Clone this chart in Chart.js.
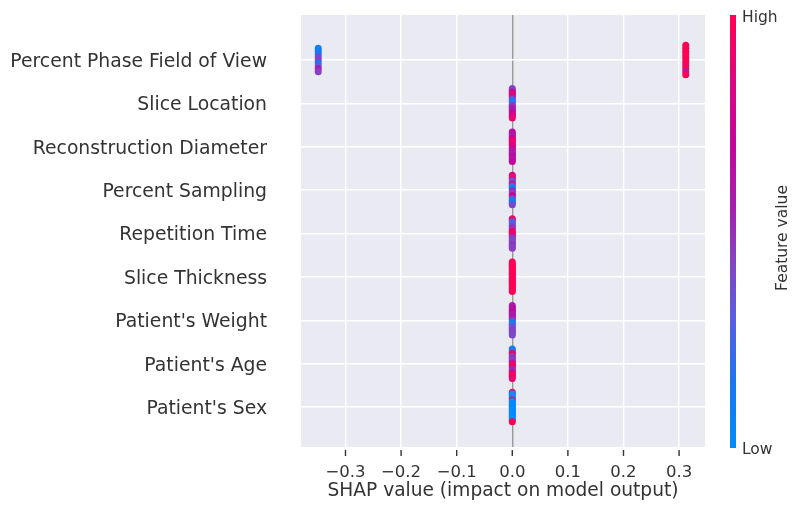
<!DOCTYPE html>
<html>
<head>
<meta charset="utf-8">
<script src="https://cdn.jsdelivr.net/npm/chart.js@4"></script>
<style>
  html,body{margin:0;padding:0;background:#fff}
  #wrap{width:806px;height:513px;position:relative}
</style>
</head>
<body>
<div id="wrap"><canvas id="c"></canvas></div>
<script>
// features, top to bottom
const features = [
  'Percent Phase Field of View', 'Slice Location', 'Reconstruction Diameter',
  'Percent Sampling', 'Repetition Time', 'Slice Thickness',
  "Patient's Weight", "Patient's Age", "Patient's Sex"
];

// SHAP value of each sample, per feature
const shapValues = [
  [-0.349,-0.349,-0.349,-0.349,-0.349,-0.349,-0.349,-0.349,-0.349,
    0.312,0.312,0.312,0.312,0.312,0.312,0.312,0.312,0.312,0.312,0.312],
  [0,0,0,0,0,0,0,0,0,0,0,0,0,0,0,0,0,0,0,0],
  [0,0,0,0,0,0,0,0,0,0,0,0,0,0,0,0,0,0,0,0],
  [0,0,0,0,0,0,0,0,0,0,0,0,0,0,0,0,0,0,0,0],
  [0,0,0,0,0,0,0,0,0,0,0,0,0,0,0,0,0,0,0,0],
  [0,0,0,0,0,0,0,0,0,0,0,0,0,0,0,0,0,0,0,0],
  [0,0,0,0,0,0,0,0,0,0,0,0,0,0,0,0,0,0,0,0],
  [0,0,0,0,0,0,0,0,0,0,0,0,0,0,0,0,0,0,0,0],
  [0,0,0,0,0,0,0,0,0,0,0,0,0,0,0,0,0,0,0,0]
];

// normalised feature value (0 = low, 1 = high), same order as shapValues
const featureValues = [
  [0.05,0.1,0.15,0.4,0.45,0.15,0.35,0.55,0.45,
   1,1,1,1,1,1,1,0.95,1,0.6,1],
  [0.4,0.45,0.6,0.75,0.95,0.85,0.55,0.35,0.2,0.05,0.3,0.45,0.5,0.6,0.55,0.65,0.7,0.8,0.75,0.9],
  [0.65,0.7,0.6,0.55,0.7,0.8,0.9,0.95,0.85,0.75,0.9,0.7,0.6,0.65,0.55,0.6,0.7,0.65,0.6,0.7],
  [0.8,0.9,0.95,0.5,0.35,0.45,0.9,0.3,0.05,0.1,0.6,0.45,0.4,0.7,0.8,0.35,0.2,0.05,0.1,0.4],
  [0.9,0.95,0.3,0.25,0.35,0.4,0.5,0.45,0.9,0.95,1,0.85,0.5,0.45,0.4,0.35,0.45,0.5,0.4,0.45],
  [1,1,0.95,1,1,1,0.97,1,1,1,1,0.95,1,1,1,0.97,1,1,0.95,1],
  [0.55,0.6,0.65,0.6,0.7,0.65,0.55,0.6,0.6,0.5,0.45,0.1,0.05,0.3,0.4,0.35,0.45,0.4,0.45,0.4],
  [0.1,0.05,0.3,0.9,0.95,0.4,0.5,0.45,0.4,0.6,0.95,0.9,1,0.55,0.5,0.6,0.9,0.95,1,0.9],
  [1,0,0,0,0,1,0,0,0,0,0,0,0,0,0,0,0,0,0,1]
];

const xTicks = [-0.3,-0.2,-0.1,0.0,0.1,0.2,0.3];
const colorLabels = ['High','Low','Feature value'];

// red_blue style colormap
const cmapStops = [
  [0.00,[0,139,251]],[0.15,[26,118,242]],[0.30,[90,94,224]],[0.45,[138,63,192]],
  [0.55,[165,31,176]],[0.70,[196,6,156]],[0.85,[224,5,128]],[1.00,[255,0,82]]
];
function cmap(v){
  for(let i=1;i<cmapStops.length;i++){
    const [p1,c1]=cmapStops[i], [p0,c0]=cmapStops[i-1];
    if(v<=p1){
      const t=(v-p0)/(p1-p0);
      const c=c0.map((a,k)=>Math.round(a+(c1[k]-a)*t));
      return `rgb(${c[0]},${c[1]},${c[2]})`;
    }
  }
  return 'rgb(255,0,82)';
}

// swarm layout: stack samples sharing a SHAP value around the row
function buildPoints(fi){
  const row = features.length-1-fi;
  const vals = shapValues[fi], fv = featureValues[fi];
  const groups = {};
  vals.forEach((v,i)=>{ (groups[v] = groups[v] || []).push(i); });
  const nmax = Math.max(...Object.values(groups).map(g=>g.length));
  const pts = [], cols = [];
  Object.keys(groups).forEach(k=>{
    const g = groups[k], n = g.length;
    const spread = nmax>1 ? 0.34*(n-1)/(nmax-1) : 0;
    g.forEach((idx,j)=>{
      const off = n>1 ? spread*(1-2*j/(n-1)) : 0;
      pts.push({x: vals[idx], y: row+off});
      cols.push(cmap(fv[idx]));
    });
  });
  return {data:pts, pointBackgroundColor:cols, pointBorderWidth:0, pointRadius:3.5, pointHoverRadius:3.5};
}

const bgPlugin = {
  id:'bg',
  beforeDraw(chart){
    const {ctx, chartArea:a} = chart;
    ctx.save(); ctx.fillStyle='#eaeaf2';
    ctx.fillRect(a.left, a.top, a.right-a.left, a.bottom-a.top);
    ctx.restore();
  },
  afterDraw(chart){
    const {ctx, chartArea:a} = chart;
    const xs = chart.scales.x;
    ctx.save();
    // x tick marks
    ctx.strokeStyle='#333'; ctx.lineWidth=1.4;
    xTicks.forEach(t=>{
      const px = xs.getPixelForValue(t);
      ctx.beginPath(); ctx.moveTo(px, a.bottom+3); ctx.lineTo(px, a.bottom+9); ctx.stroke();
    });
    // colour bar
    const top=15, bot=448, x0=730, w=6;
    const g = ctx.createLinearGradient(0, bot, 0, top);
    cmapStops.forEach(([p])=>g.addColorStop(p, cmap(p)));
    ctx.fillStyle=g; ctx.fillRect(x0, top, w, bot-top);
    ctx.fillStyle='#333'; ctx.font='15.5px "DejaVu Sans"';
    ctx.textAlign='left'; ctx.textBaseline='middle';
    ctx.fillText(colorLabels[0], 742, 18);
    ctx.fillText(colorLabels[1], 742, 450);
    ctx.translate(783, 238); ctx.rotate(-Math.PI/2);
    ctx.textAlign='center'; ctx.font='15.5px "DejaVu Sans"';
    ctx.fillText(colorLabels[2], 0, 0);
    ctx.restore();
  }
};

new Chart(document.getElementById('c'), {
  type:'scatter',
  data:{ datasets: features.map((f,i)=>buildPoints(i)) },
  options:{
    responsive:true, maintainAspectRatio:false, animation:false,
    layout:{ padding:{left:0, top:15, right:101, bottom:0} },
    plugins:{ legend:{display:false}, tooltip:{enabled:false} },
    scales:{
      x:{
        type:'linear', min:-0.38, max:0.3466,
        afterBuildTicks(s){ s.ticks = xTicks.map(v=>({value:v})); },
        afterFit(s){ s.height = 66; },
        ticks:{ callback:v=> (v<0?'\u2212':'') + Math.abs(v).toFixed(1),
                font:{family:'DejaVu Sans', size:16.5}, color:'#333', padding:5, maxRotation:0 },
        grid:{ color:c=> c.tick && Math.abs(c.tick.value)<1e-9 ? '#999999' : '#ffffff',
               lineWidth:1.4, drawTicks:true, tickLength:11, tickColor:'rgba(0,0,0,0)' },
        border:{display:false},
        title:{ display:true, text:'SHAP value (impact on model output)',
                font:{family:'DejaVu Sans', size:18.6}, color:'#333', padding:{top:0,bottom:11} }
      },
      y:{
        type:'linear', min:-0.922, max:9.037,
        afterBuildTicks(s){ s.ticks = features.map((f,i)=>({value:i})); },
        afterFit(s){ s.width = 301; },
        ticks:{ callback:v=> features[features.length-1-v],
                font:{family:'DejaVu Sans', size:18.8}, color:'#333', padding:2, labelOffset:2 },
        grid:{ color:'#ffffff', lineWidth:1.4, drawTicks:true, tickLength:32, tickColor:'rgba(0,0,0,0)' },
        border:{display:false}
      }
    }
  },
  plugins:[bgPlugin]
});
</script>
</body>
</html>
